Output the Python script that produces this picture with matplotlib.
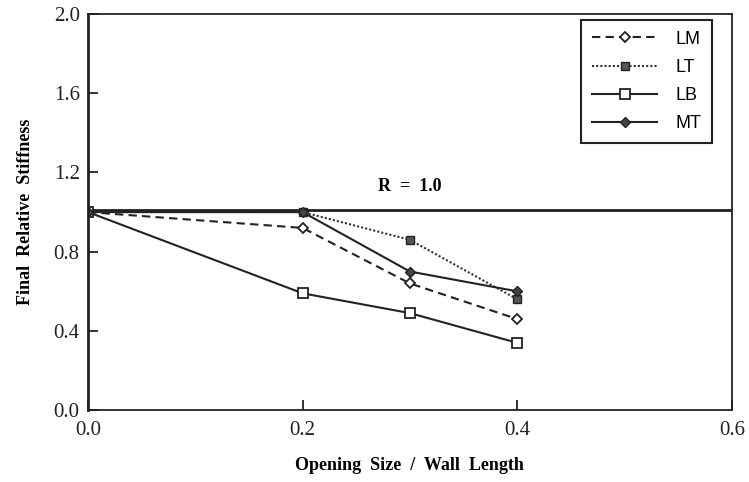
import numpy as np
import matplotlib.pyplot as plt

# datos
x = [0.0, 0.2, 0.3, 0.4]
lm = [1.0, 0.92, 0.64, 0.46]
lt = [1.0, 1.0, 0.86, 0.56]
lb = [1.0, 0.59, 0.49, 0.34]
mt = [1.0, 1.0, 0.70, 0.60]
r_ref = 1.01

plt.rcParams['font.family'] = ['Liberation Serif', 'DejaVu Serif']

fig = plt.figure(figsize=(7.49, 4.82), dpi=100)
ax = fig.add_axes([0.1175, 0.149, 0.8595, 0.822])

ax.axhline(r_ref, color='#222222', lw=2)
ax.text(0.3, 1.085, 'R  =  1.0', ha='center', va='bottom', fontsize=13, fontweight='bold')

ax.plot(x, lm, color='#222222', ls=(0, (4, 2.5)), lw=1.5, marker='D', ms=5,
        mfc='white', mec='#222222', mew=1.3, label='LM')
ax.plot(x, lt, color='#333333', ls=(0, (1, 1)), lw=1.5, marker='s', ms=6,
        mfc='#555555', mec='#222222', label='LT')
ax.plot(x, lb, color='#222222', ls='-', lw=1.5, marker='s', ms=7,
        mfc='white', mec='#222222', mew=1.3, label='LB')
ax.plot(x, mt, color='#222222', ls='-', lw=1.5, marker='D', ms=5,
        mfc='#444444', mec='#222222', label='MT')

ax.set_xlim(0, 0.6)
ax.set_ylim(0, 2.0)
ax.set_xticks([0.0, 0.2, 0.4, 0.6])
ax.set_yticks([0.0, 0.4, 0.8, 1.2, 1.6, 2.0])
ax.set_xticklabels(['0.0', '0.2', '0.4', '0.6'])
ax.set_yticklabels(['0.0', '0.4', '0.8', '1.2', '1.6', '2.0'])
ax.tick_params(direction='in', length=7, width=1.3, labelsize=15, colors='#222222')
ax.tick_params(axis='x', pad=8)
ax.tick_params(axis='y', pad=6)
for s in ax.spines.values():
    s.set_color('#222222')
    s.set_linewidth(1.3)
ax.spines['left'].set_linewidth(2)

ax.set_xlabel('Opening  Size  /  Wall  Length', fontsize=13, fontweight='bold', labelpad=12)
ax.set_ylabel('Final  Relative  Stiffness', fontsize=13, fontweight='bold', labelpad=14)

leg = ax.legend(loc='upper right', bbox_to_anchor=(0.969, 0.985), borderaxespad=0,
                fancybox=False, edgecolor='#222222', framealpha=1, handlelength=3.6,
                labelspacing=0.62, handletextpad=1.0, borderpad=0.6,
                prop={'family': 'Liberation Sans', 'size': 13})
leg.get_frame().set_linewidth(1.5)

fig.savefig('out.png', dpi=100)
